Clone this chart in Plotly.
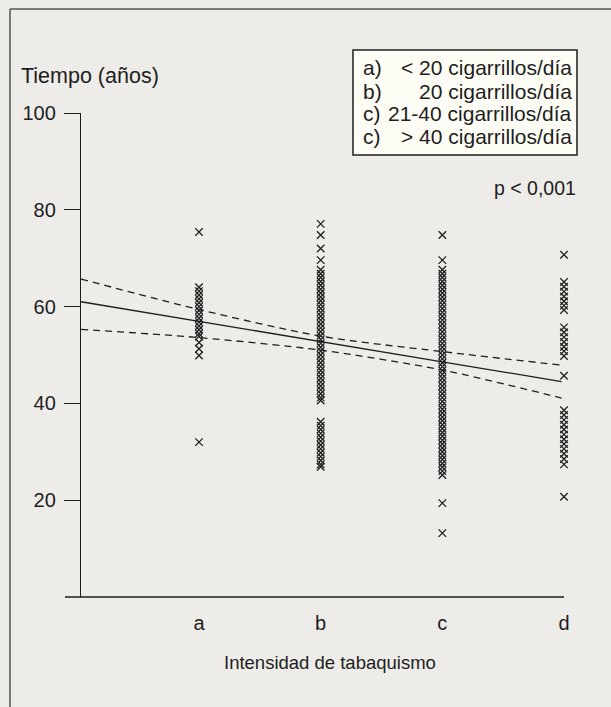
import plotly.graph_objects as go

# ---------------- data ----------------
categories = ["a", "b", "c", "d"]
cat_pos = [1, 2, 3, 4]

times_a = [75.4, 64.0, 63.2, 62.4, 61.6, 60.8, 60.0, 59.2, 58.4, 57.6, 56.8,
           56.0, 55.2, 54.4, 53.8, 52.6, 51.3, 49.9, 32.0]
times_b = [77.1, 74.8, 72.0, 69.6,
           67.6, 66.8, 66.0, 65.2, 64.4, 63.6, 62.8, 62.0, 61.2, 60.4, 59.6,
           58.8, 58.0, 57.2, 56.4, 55.6, 54.8, 54.0, 53.2, 52.4, 51.6, 50.8,
           50.0, 49.2, 48.4, 47.6, 46.8, 46.0, 45.2, 44.4, 43.6, 42.8, 42.0,
           41.2, 40.6,
           36.2, 35.4, 34.6, 33.8, 33.0, 32.2, 31.4, 30.6, 29.8, 29.0, 28.2,
           27.4, 26.9]
times_c = [74.8, 69.6,
           67.6, 66.8, 66.0, 65.2, 64.4, 63.6, 62.8, 62.0, 61.2, 60.4, 59.6,
           58.8, 58.0, 57.2, 56.4, 55.6, 54.8, 54.0, 53.2, 52.4, 51.6, 50.8,
           50.0, 49.2, 48.4, 47.6, 46.8, 46.0, 45.2, 44.4, 43.6, 42.8, 42.0,
           41.2, 40.4, 39.6, 38.8, 38.0, 37.2, 36.4, 35.6, 34.8, 34.0, 33.2,
           32.4, 31.6, 30.8, 30.0, 29.2, 28.4, 27.6, 26.8, 26.0, 25.2,
           19.4, 13.2]
times_d = [70.7,
           65.1, 64.1, 63.1, 62.1, 61.1, 60.2, 59.3,
           55.7, 54.7, 53.7, 52.7, 51.7, 50.8, 49.8,
           45.7,
           38.6, 37.6, 36.6, 35.6, 34.6, 33.6, 32.6, 31.6, 30.6, 29.6, 28.5, 27.4,
           20.7]

fit_x = [0.03, 1, 2, 3, 3.98]
fit_y = [61.0, 57.0, 52.8, 48.6, 44.5]
ci_upper = [65.7, 59.4, 53.9, 50.7, 47.9]
ci_lower = [55.3, 53.6, 51.0, 46.9, 41.1]

legend_keys = ["a)", "b)", "c)", "c)"]
legend_texts = ["< 20 cigarrillos/día", "20 cigarrillos/día",
                "21-40 cigarrillos/día", "> 40 cigarrillos/día"]

y_ticks = [20, 40, 60, 80, 100]

# ---------------- layout geometry ----------------
W, H = 611, 707
L, R, T, B = 81, 564, 113, 597  # plot area in pixels
BG = "#EDECE8"
INK = "#1e1e1e"
FONT = "Liberation Sans, Arial, Helvetica, sans-serif"


def px(x):
    return (x - L) / (R - L)


def py(y):
    return (B - y) / (B - T)


fig = go.Figure()

groups = [times_a, times_b, times_c, times_d]
for pos, vals in zip(cat_pos, groups):
    fig.add_trace(go.Scatter(
        x=[pos] * len(vals), y=vals, mode="markers",
        marker=dict(symbol="x-thin", size=7.5, line=dict(width=1.3, color=INK), color=INK),
        cliponaxis=False, showlegend=False, hoverinfo="y"))

fig.add_trace(go.Scatter(x=fit_x, y=fit_y, mode="lines",
                         line=dict(color=INK, width=1.3), showlegend=False))
for band in (ci_upper, ci_lower):
    fig.add_trace(go.Scatter(x=fit_x, y=band, mode="lines",
                             line=dict(color=INK, width=1.3, dash="7px,5px", shape="spline",
                                       smoothing=0.8),
                             showlegend=False))

shapes = [
    # x-axis line (extends left past y-axis)
    dict(type="line", xref="paper", yref="paper", x0=px(65), x1=px(564), y0=0, y1=0,
         line=dict(color=INK, width=1.3)),
    # outer frame (left and top)
    dict(type="line", xref="paper", yref="paper", x0=px(10), x1=px(10), y0=py(9), y1=py(720),
         line=dict(color="#555", width=1.5)),
    dict(type="line", xref="paper", yref="paper", x0=px(10), x1=px(640), y0=py(9), y1=py(9),
         line=dict(color="#555", width=1.5)),
    # legend box
    dict(type="rect", xref="paper", yref="paper", x0=px(353), x1=px(577), y0=py(50), y1=py(155),
         fillcolor="#FDFDF5", line=dict(color=INK, width=1.5), layer="below"),
]

annotations = []
rows_y = [68, 91, 113, 136]
for k, t, yy in zip(legend_keys, legend_texts, rows_y):
    annotations.append(dict(text=k, xref="paper", yref="paper", x=px(361), y=py(yy),
                            xanchor="left", yanchor="middle", showarrow=False,
                            font=dict(size=21, color=INK, family=FONT)))
    annotations.append(dict(text=t, xref="paper", yref="paper", x=px(574), y=py(yy),
                            xanchor="right", yanchor="middle", showarrow=False,
                            font=dict(size=21, color=INK, family=FONT)))

annotations += [
    dict(text="Tiempo (años)", xref="paper", yref="paper", x=px(19), y=py(76),
         xanchor="left", yanchor="middle", showarrow=False,
         font=dict(size=21.5, color=INK, family=FONT)),
    dict(text="p < 0,001", xref="paper", yref="paper", x=px(578), y=py(188),
         xanchor="right", yanchor="middle", showarrow=False,
         font=dict(size=19.5, color=INK, family=FONT)),
    dict(text="Intensidad de tabaquismo", xref="paper", yref="paper", x=px(330), y=py(663),
         xanchor="center", yanchor="middle", showarrow=False,
         font=dict(size=18.5, color=INK, family=FONT)),
]

fig.update_layout(
    width=W, height=H,
    margin=dict(l=L, r=W - R, t=T, b=H - B, pad=0),
    paper_bgcolor=BG, plot_bgcolor=BG,
    font=dict(family=FONT, color=INK, size=20),
    shapes=shapes, annotations=annotations,
    xaxis=dict(range=[0.03, 4.0], tickvals=cat_pos, ticktext=categories,
               showline=False, showgrid=False, zeroline=False, ticks="",
               ticklabelstandoff=12, tickfont=dict(size=20, color=INK, family=FONT)),
    yaxis=dict(range=[0, 100], tickvals=y_ticks, ticks="outside", ticklen=16,
               tickwidth=1.3, tickcolor=INK, showline=True, linecolor=INK, linewidth=1.3,
               showgrid=False, zeroline=False, ticklabelstandoff=4,
               tickfont=dict(size=20, color=INK, family=FONT)),
)

fig.write_html("out.html", config={"displayModeBar": False},
               post_script="document.body.style.margin='0';document.body.style.background='%s';" % BG)
